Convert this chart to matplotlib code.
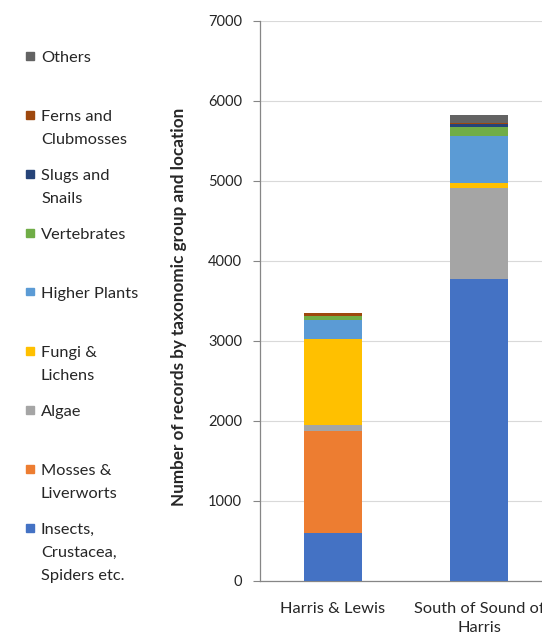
import matplotlib
matplotlib.use("Agg")
import matplotlib.pyplot as plt
from matplotlib.patches import Rectangle

plt.rcParams['font.family'] = ['Lato', 'DejaVu Sans']

locations = ["Harris & Lewis", "South of Sound of\nHarris"]

# stacked from the bottom up
groups = ["Insects,\nCrustacea,\nSpiders etc.", "Mosses &\nLiverworts", "Algae",
          "Fungi &\nLichens", "Higher Plants", "Vertebrates", "Slugs and\nSnails",
          "Ferns and\nClubmosses", "Others"]
insects = [605, 3779]
mosses = [1270, 0]
algae = [80, 1131]
fungi = [1065, 63]
higher_plants = [235, 583]
vertebrates = [50, 110]
slugs = [0, 45]
ferns = [45, 5]
others = [0, 105]
series = [insects, mosses, algae, fungi, higher_plants, vertebrates, slugs, ferns, others]
colors = ["#4472C4", "#ED7D31", "#A5A5A5", "#FFC000", "#5B9BD5",
          "#70AD47", "#264478", "#9E480E", "#636363"]

W, H = 542, 632
fig = plt.figure(figsize=(W / 100, H / 100), dpi=100)
ax = fig.add_axes([260 / W, (H - 581) / H, (W - 260) / W, (581 - 20.7) / H])

x = list(range(len(locations)))
bottom = [0] * len(locations)
for vals, col in zip(series, colors):
    ax.bar(x, vals, width=0.40, bottom=bottom, color=col, zorder=3)
    bottom = [b + v for b, v in zip(bottom, vals)]

ax.set_xlim(-0.5, 1.43)
ax.set_ylim(0, 7000)
ax.set_yticks(range(0, 7001, 1000))
ax.yaxis.grid(True, color="#D9D9D9", linewidth=0.8, zorder=0)
ax.set_xticks(x)
ax.set_xticklabels(locations, fontsize=11.8, color="#262626", linespacing=1.45)
ax.tick_params(axis='x', length=0, pad=15)
ax.tick_params(axis='y', length=5, width=0.8, color="#868686", labelsize=10.5,
               labelcolor="#262626", pad=8)
for s in ['top', 'right']:
    ax.spines[s].set_visible(False)
for s in ['left', 'bottom']:
    ax.spines[s].set_color("#868686")
    ax.spines[s].set_linewidth(0.9)

fig.text(179 / W, 1 - 307 / H, "Number of records by taxonomic group and location",
         rotation=90, ha='center', va='center', fontsize=12.3, fontweight='bold',
         color="#262626")

# legend down the left side, top entry first
for i, (name, col) in enumerate(zip(groups[::-1], colors[::-1])):
    yc = 58 + 59 * i
    fig.patches.append(Rectangle((26 / W, 1 - (yc + 1.5) / H), 7.5 / W, 7.5 / H,
                                 transform=fig.transFigure, color=col))
    fig.text(41 / W, 1 - (yc - 7) / H, name, ha='left', va='top', fontsize=11.8,
             color="#262626", linespacing=1.8)

fig.savefig("out.png", dpi=100)
